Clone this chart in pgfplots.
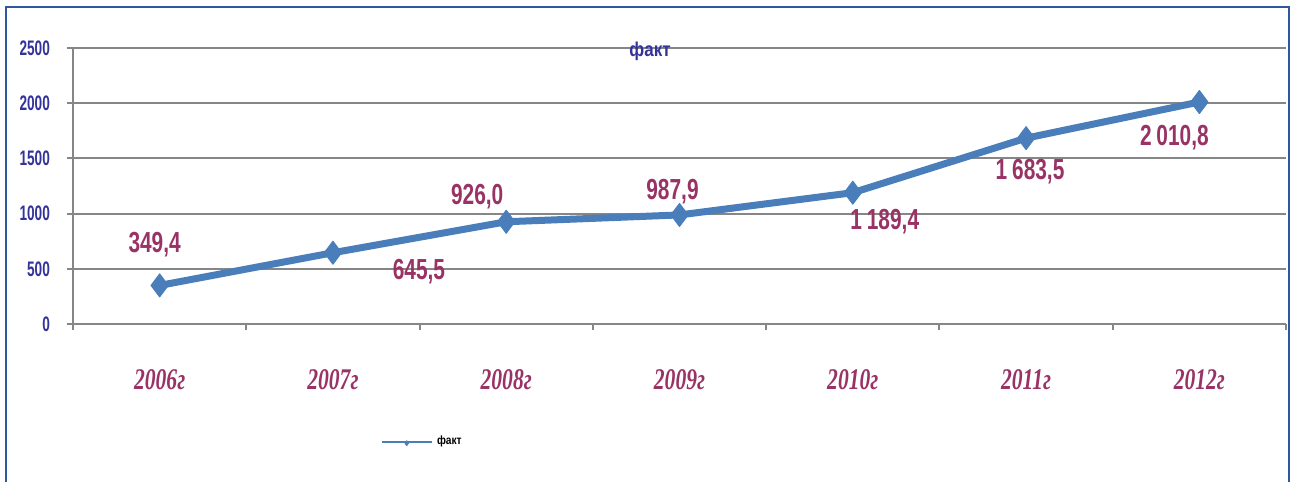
\documentclass[border=0pt]{standalone}
\usepackage{pgfplots}
\pgfplotsset{compat=1.18}
\usepackage{pgfplotstable}
\usepackage{fontspec}
\setmainfont{Liberation Sans}
\newfontfamily\lblfont[FakeStretch=0.72]{Liberation Sans}
\newfontfamily\tickfont[FakeStretch=0.65]{Liberation Sans}
\newfontfamily\ttlfont[FakeStretch=0.85]{Liberation Sans}
\newfontfamily\yearfont[FakeStretch=0.72]{Liberation Serif}

\definecolor{lineblue}{HTML}{4A7EBB}
\definecolor{labred}{HTML}{993366}
\definecolor{navy}{HTML}{333399}
\definecolor{framec}{HTML}{2F5A9A}
\definecolor{gridc}{HTML}{868686}

% year, value, label offset (pt)
\pgfplotstableread{
x y dx dy
0 349.4 -2.5 20.5
1 645.5 43 -9.5
2 926.0 -14.5 12.5
3 987.9 -3.5 11.5
4 1189.4 16 -14.5
5 1683.5 2 -16.5
6 2010.8 -12.5 -18
}\fakt

\begin{document}
\begin{tikzpicture}
\useasboundingbox (-36.5pt,-78.5pt) rectangle (610pt,162pt);
\begin{axis}[
  at={(0,0)}, anchor=south west,
  scale only axis, width=606.5pt, height=138pt,
  xmin=-0.5, xmax=6.5, ymin=0, ymax=2500,
  ytick={0,500,...,2500},
  xtick={0,...,6},
  xticklabels={2006г,2007г,2008г,2009г,2010г,2011г,2012г},
  minor xtick={-0.5,0.5,...,6.5},
  axis x line*=bottom, axis y line*=left,
  axis line style={gridc, line width=1pt, -},
  tick align=outside,
  major x tick style={draw=none},
  minor x tick style={gridc, line width=1pt},
  major y tick style={gridc, line width=1pt},
  major tick length=3pt, minor tick length=3pt,
  ymajorgrids, major grid style={gridc, line width=1pt},
  /pgf/number format/assume math mode=true,
  yticklabel style={/pgf/number format/1000 sep={}, font=\tickfont\bfseries\fontsize{10.5}{12}\selectfont, text=navy, xshift=-5pt},
  xticklabel style={font=\yearfont\bfseries\itshape\fontsize{15}{18}\selectfont, text=labred, anchor=base, yshift=-29.5pt},
  title={факт},
  title style={at={(0.4757,0.993)}, anchor=center, yshift=-6.5pt, font=\ttlfont\bfseries\fontsize{10}{12}\selectfont, text=navy},
  legend style={draw=none, fill=none, at={(0.2531,-0.4275)}, anchor=west,
    font=\ttlfont\bfseries\fontsize{6}{7}\selectfont, inner sep=0pt},
  legend image code/.code={
    \draw[#1, line width=1.3pt, mark=none] (0pt,0pt) -- (25pt,0pt);
    \draw[#1, mark size=1.2pt, line width=0.3pt] plot coordinates {(12.5pt,-0.6pt)};
  },
  clip=false,
]
\addplot[lineblue, line width=3.5pt, line join=round,
  mark=diamond*, mark size=5.75pt,
  mark options={solid, line width=0.5pt, fill=lineblue},
  point meta=y,
  visualization depends on={\thisrow{dx}\as\dx},
  visualization depends on={\thisrow{dy}\as\dy},
  nodes near coords={\pgfmathprintnumber[fixed, fixed zerofill, precision=1, use comma, 1000 sep={\,}]{\pgfplotspointmeta}},
  every node near coord/.append style={anchor=center, xshift=\dx pt, yshift=\dy pt,
    font=\lblfont\bfseries\fontsize{14.5}{16}\selectfont, text=labred},
] table[x=x, y=y] {\fakt};
\addlegendentry{факт}
\end{axis}
\draw[framec, line width=1pt] (-33.5pt,-95pt) rectangle (608pt,158.5pt);
\end{tikzpicture}
\end{document}
